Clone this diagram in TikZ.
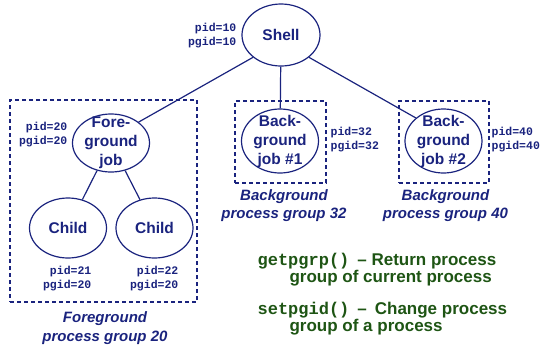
\documentclass[tikz,border=0pt]{standalone}
\usepackage{fontspec}
\setmainfont{Liberation Sans}
\setmonofont{Liberation Mono}
\usetikzlibrary{positioning,shapes.geometric}
\definecolor{navy}{RGB}{26,35,126}
\definecolor{dkgreen}{RGB}{30,85,20}

\begin{document}
\begin{tikzpicture}[x=1pt,y=-1pt,line width=1.2pt,navy,
  proc/.style={ellipse,draw,inner sep=0pt,minimum width=77pt},
  ptext/.style={font=\fontsize{15.5}{19}\selectfont\bfseries,align=center,inner sep=0pt},
  grp/.style={draw,dash pattern=on 4pt off 3pt},
  ids/.style={font=\fontsize{11.5}{14}\selectfont\ttfamily\bfseries,inner sep=0pt},
  grpcap/.style={font=\fontsize{15}{18.5}\selectfont\bfseries\itshape,align=center,inner sep=0pt},
  fn/.style={dkgreen,font=\fontsize{17}{17}\selectfont\bfseries,align=left,anchor=west,inner sep=0pt}]

  \useasboundingbox (0,0) rectangle (542,349);

  % process groups
  \node[grp,minimum width=187pt,minimum height=202pt] (fggrp) at (103.5,201) {};
  \node[grp,minimum width=91pt,minimum height=82pt] (bggrp1) at (280.5,142) {};
  \node[grp,minimum width=90pt,minimum height=82pt] (bggrp2) at (444,142) {};

  % processes
  \node[proc,minimum width=78pt,minimum height=62pt,label={[ptext]center:Shell}] (shell) at (281,35) {};
  \node[proc,minimum height=58pt,label={[ptext]center:{Fore-\\ground\\job}}] (fg) at (111,143) {};
  \node[proc,minimum height=60pt,label={[ptext]center:Child}] (child1) at (68,228) {};
  \node[proc,minimum height=60pt,label={[ptext]center:Child}] (child2) at (154.5,228) {};
  \node[proc,minimum height=64pt,label={[ptext]center:{Back-\\ground\\job \#1}}] (bg1) at (280,141) {};
  \node[proc,minimum height=64pt,label={[ptext]center:{Back-\\ground\\job \#2}}] (bg2) at (443.5,141) {};

  % ids
  \node[ids,align=right,anchor=east] (shellid) at (237,36) {pid=10\\pgid=10};
  \node[ids,align=right,anchor=east] (fgid) at (68,135) {pid=20\\pgid=20};
  \node[ids,align=right,anchor=east] (child1id) at (92,278.5) {pid=21\\pgid=20};
  \node[ids,align=right,anchor=east] (child2id) at (179,279) {pid=22\\pgid=20};
  \node[ids,align=left,anchor=west] (bg1id) at (330,140) {pid=32\\pgid=32};
  \node[ids,align=left,anchor=west] (bg2id) at (491,140) {pid=40\\pgid=40};

  % captions
  \node[grpcap] (fgcap) at (105,328) {Foreground\\process group 20};
  \node[grpcap] (bg1cap) at (284,205.5) {Background\\process group 32};
  \node[grpcap] (bg2cap) at (445.5,205.5) {Background\\process group 40};

  % functions
  \node[fn] (getgrp) at (257,270) {\texttt{getpgrp()}\hspace{8pt}– Return process\\\hspace*{32pt}group of current process};
  \node[fn] (setgid) at (257,318.5) {\texttt{setpgid()}\hspace{8pt}–\hspace{8pt}Change process\\\hspace*{32pt}group of a process};

  \draw (shell.south west) -- (fg.north east);
  \draw (shell) -- (bg1);
  \draw (shell.south east) -- (bg2.north west);
  \draw (fg) -- (child1);
  \draw (fg) -- (child2);
\end{tikzpicture}
\end{document}
